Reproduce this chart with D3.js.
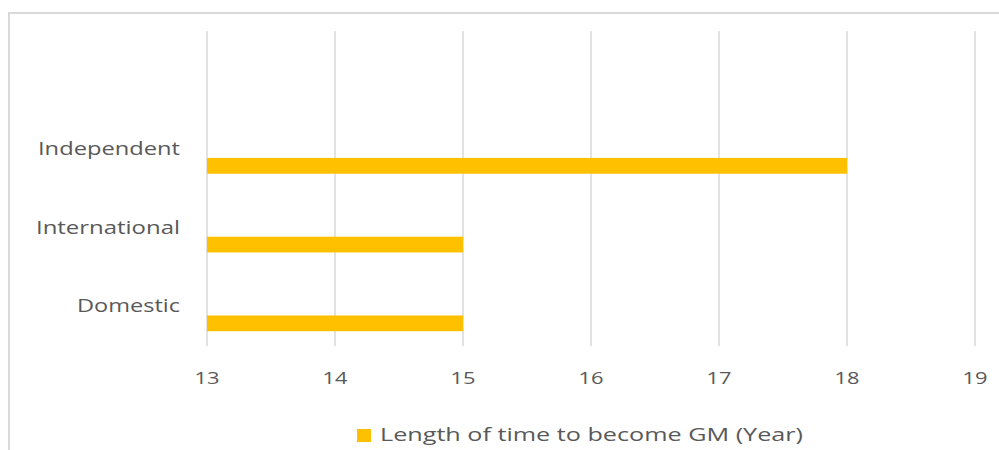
<!DOCTYPE html>
<html><head><meta charset="utf-8">
<script src="https://cdn.jsdelivr.net/npm/d3@7/dist/d3.min.js"></script>
<style>body{margin:0;background:#fff;}svg{display:block;}text{font-family:"Open Sans",sans-serif;fill:#595959;}</style>
</head><body>
<script>
const categories = ["", "Independent", "International", "Domestic"];
const values = [null, 18, 15, 15];
const xTicks = [13, 14, 15, 16, 17, 18, 19];
const seriesName = "Length of time to become GM (Year)";
const labelWidths = {"Independent":142, "International":144, "Domestic":103};

const W = 999, H = 450;
const svg = d3.select("body").append("svg").attr("width", W).attr("height", H);

// outer frame
svg.append("rect").attr("x", 9).attr("y", 13).attr("width", 1000).attr("height", 460)
  .attr("fill", "none").attr("stroke", "#d9d9d9").attr("stroke-width", 2);

const x = d3.scaleLinear().domain([13, 19]).range([207, 975]);
const y = d3.scaleBand().domain(categories).range([31, 346]).paddingInner(0).paddingOuter(0);
const bw = y.bandwidth();

// gridlines
svg.append("g").selectAll("line").data(xTicks).join("line")
  .attr("x1", d => x(d)).attr("x2", d => x(d))
  .attr("y1", 31).attr("y2", 346)
  .attr("stroke", "#d9d9d9").attr("stroke-width", 1.5);

// bars
const data = categories.map((c, i) => ({c, v: values[i]})).filter(d => d.v != null);
svg.append("g").selectAll("rect").data(data).join("rect")
  .attr("x", x(13))
  .attr("y", d => y(d.c) + bw * 0.612)
  .attr("width", d => x(d.v) - x(13))
  .attr("height", bw * 0.2)
  .attr("fill", "#FFC000");

// category labels
svg.append("g").selectAll("text").data(categories.filter(c => c)).join("text")
  .attr("x", 180).attr("y", d => y(d) + bw / 2 + 1)
  .attr("text-anchor", "end").attr("dominant-baseline", "middle")
  .attr("font-size", 18)
  .attr("textLength", d => labelWidths[d]).attr("lengthAdjust", "spacingAndGlyphs")
  .text(d => d);

// x tick labels
svg.append("g").selectAll("text").data(xTicks).join("text")
  .attr("x", d => x(d)).attr("y", 379)
  .attr("text-anchor", "middle").attr("dominant-baseline", "middle")
  .attr("font-size", 17)
  .attr("textLength", 25).attr("lengthAdjust", "spacingAndGlyphs")
  .text(d => d3.format("d")(d));

// legend
const lg = svg.append("g");
lg.append("rect").attr("x", 357).attr("y", 429).attr("width", 14).attr("height", 13).attr("fill", "#FFC000");
lg.append("text").attr("x", 380).attr("y", 436).attr("dominant-baseline", "middle")
  .attr("font-size", 19).attr("textLength", 423).attr("lengthAdjust", "spacingAndGlyphs")
  .text(seriesName);
</script>
</body></html>
